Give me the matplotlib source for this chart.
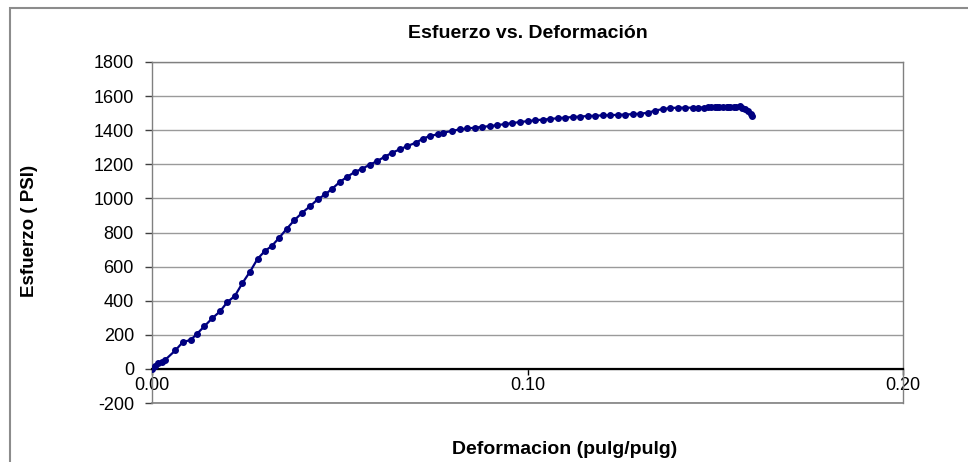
import numpy as np
import matplotlib.pyplot as plt
from matplotlib.patches import Rectangle

# ============================================================
# Data
# ============================================================

strain = [
    0.0, 0.0008, 0.0017, 0.0026, 0.0035, 0.0062, 0.0082, 0.0103, 0.0120, 0.0139,
    0.0160, 0.0181, 0.0200, 0.0221, 0.0241, 0.0261, 0.0281, 0.0300, 0.0320, 0.0339,
    0.0359, 0.0379, 0.0400, 0.0421, 0.0441, 0.0461, 0.0480, 0.0500, 0.0520, 0.0540,
    0.0560, 0.0580, 0.0600, 0.0620, 0.0640, 0.0660, 0.0680, 0.0703, 0.0721, 0.0740,
    0.0761, 0.0776, 0.0798, 0.0819, 0.0840, 0.0860, 0.0880, 0.0900, 0.0920, 0.0940,
    0.0960, 0.0980, 0.1000, 0.1020, 0.1040, 0.1060, 0.1080, 0.1100, 0.1120, 0.1140,
    0.1160, 0.1180, 0.1200, 0.1220, 0.1240, 0.1260, 0.1280, 0.1300, 0.1320, 0.1340,
    0.1360, 0.1380, 0.1400, 0.1420, 0.1440, 0.1455, 0.1470, 0.1480, 0.1490, 0.1500,
    0.1505, 0.1510, 0.1520, 0.1530, 0.1535, 0.1540, 0.1550, 0.1555, 0.1565, 0.1570,
    0.1580, 0.1588, 0.1595, 0.1598,
]

stress = [
    0, 15, 33, 43, 53, 108, 157, 170, 206, 249,
    296, 337, 390, 429, 504, 570, 645, 690, 723, 770,
    822, 872, 916, 954, 994, 1023, 1057, 1096, 1127, 1155,
    1174, 1198, 1219, 1245, 1268, 1288, 1307, 1327, 1350, 1366,
    1376, 1386, 1395, 1405, 1410, 1415, 1420, 1424, 1430, 1436,
    1442, 1448, 1453, 1458, 1462, 1466, 1470, 1474, 1477, 1480,
    1483, 1485, 1487, 1488, 1490, 1492, 1494, 1497, 1502, 1515,
    1524, 1530, 1532, 1532, 1532, 1533, 1533, 1534, 1534, 1534,
    1535, 1535, 1535, 1535, 1536, 1536, 1536, 1536, 1540, 1533,
    1525, 1512, 1496, 1482,
]

x_ticks = [0.00, 0.10, 0.20]
y_ticks = list(range(-200, 1801, 200))

NAVY = "#000080"
GRID = "#9a9a9a"

plt.rcParams['font.family'] = ['Liberation Sans', 'DejaVu Sans']
plt.rcParams['axes.unicode_minus'] = False

# ============================================================
# Figure
# ============================================================

fig = plt.figure(figsize=(9.68, 4.62), dpi=100)
fig.patch.set_facecolor("white")

# outer chart frame (runs off the right and bottom edges)
fig.patches.append(Rectangle((10 / 968, -0.1), 1.2, 1 - 8 / 462 + 0.1,
                             transform=fig.transFigure, fill=False,
                             edgecolor="#8c8c8c", linewidth=1.5))

ax = fig.add_axes([152 / 968, 1 - 403 / 462, 751 / 968, 341 / 462])

ax.plot(strain, stress, color=NAVY, linewidth=1.6, marker='o',
        markersize=4, markerfacecolor=NAVY, markeredgecolor=NAVY, zorder=3)

ax.set_xlim(0, 0.20)
ax.set_ylim(-200, 1800)
ax.set_xticks(x_ticks)
ax.set_xticklabels([f"{v:.2f}" for v in x_ticks])
ax.set_yticks(y_ticks)

ax.yaxis.grid(True, color=GRID, linewidth=1.0)
ax.set_axisbelow(True)
# bottom edge of the plot area
ax.axhline(-200, color="#808080", linewidth=1.2, clip_on=False, zorder=1)

for side in ['left', 'right', 'top']:
    ax.spines[side].set_color("#808080")
    ax.spines[side].set_linewidth(1.0)

# x axis crosses at zero
ax.spines['bottom'].set_position(('data', 0))
ax.spines['bottom'].set_color("black")
ax.spines['bottom'].set_linewidth(1.6)

ax.tick_params(axis='y', direction='out', length=5, width=1, color="#404040",
               labelsize=13, pad=8)
ax.tick_params(axis='x', direction='out', length=4.5, width=1, color="black",
               labelsize=13, pad=1)

ax.set_title("Esfuerzo vs. Deformación", fontsize=14, fontweight='bold', pad=17)
fig.text(30 / 968, 1 - 231 / 462, "Esfuerzo ( PSI)", fontsize=13.5,
         fontweight='bold', rotation=90, ha='center', va='center')
fig.text(565 / 968, 1 - 450 / 462, "Deformacion (pulg/pulg)", fontsize=14,
         fontweight='bold', ha='center', va='center')

plt.savefig("out.png", dpi=100)
plt.close()
